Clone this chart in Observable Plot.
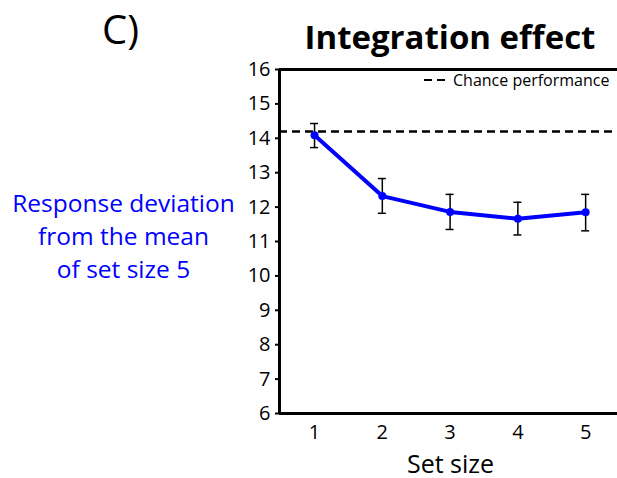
<!DOCTYPE html>
<html>
<head>
<meta charset="utf-8">
<script src="https://cdn.jsdelivr.net/npm/d3@7"></script>
<script src="https://cdn.jsdelivr.net/npm/@observablehq/plot@0.6"></script>
<style>
  html, body { margin: 0; padding: 0; background: #fff; }
  #wrap { position: relative; width: 617px; height: 478px; font-family: "Open Sans", sans-serif; }
  #wrap > svg { position: absolute; left: 0; top: 0; }
  .lbl { position: absolute; white-space: nowrap; line-height: 1; }
</style>
</head>
<body>
<div id="wrap">
  <div class="lbl" style="left:102px;top:9px;font-size:40px;">C)</div>
  <div class="lbl" style="left:450px;top:20px;transform:translateX(-50%);font-size:33px;font-weight:700;">Integration effect</div>
  <div class="lbl" style="left:123.5px;top:186px;transform:translateX(-50%);font-size:24.5px;color:#0000ff;text-align:center;line-height:33px;">Response deviation<br>from the mean<br>of set size 5</div>
  <div class="lbl" style="left:424px;top:72px;font-size:16px;display:flex;align-items:center;">
    <svg width="26" height="4" style="margin-right:3px;"><line x1="0" y1="2" x2="26" y2="2" stroke="#000" stroke-width="2" stroke-dasharray="8,5"/></svg><span>Chance performance</span>
  </div>
</div>
<script>
const setSizes = [1, 2, 3, 4, 5];
const meanDev = [14.09, 12.32, 11.86, 11.66, 11.85];
const errLow = [13.73, 11.82, 11.35, 11.19, 11.31];
const errHigh = [14.43, 12.83, 12.37, 12.14, 12.37];
const chance = 14.2;
const yTicks = [6, 7, 8, 9, 10, 11, 12, 13, 14, 15, 16];
const xLabel = "Set size";
const xDomain = [0.483, 5.47];
const yDomain = [6, 16];

const data = setSizes.map((s, i) => ({s, m: meanDev[i], lo: errLow[i], hi: errHigh[i]}));

const chart = Plot.plot({
  width: 617,
  height: 478,
  marginLeft: 279,
  marginRight: 0,
  marginTop: 69,
  marginBottom: 65,
  style: {fontFamily: "Open Sans, sans-serif", background: "transparent", color: "#000"},
  x: {type: "linear", domain: xDomain},
  y: {type: "linear", domain: yDomain},
  marks: [
    Plot.axisY({ticks: yTicks, tickFormat: "d", tickSize: 4, tickPadding: 5, fontSize: 20, label: null, strokeWidth: 2}),
    Plot.axisX({ticks: setSizes, tickFormat: "d", tickSize: 0, tickPadding: 11, fontSize: 20, label: null}),
    Plot.text([xLabel], {text: d => d, frameAnchor: "bottom", lineAnchor: "middle", dy: 51, dx: 2, fontSize: 25, fill: "#000"}),
    Plot.ruleY([chance], {stroke: "#000", strokeWidth: 2.5, strokeDasharray: "8,5"}),
    Plot.ruleX(data, {x: "s", y1: "lo", y2: "hi", stroke: "#000", strokeWidth: 1.5}),
    Plot.ruleY(data, {y: "lo", x1: "s", x2: "s", insetLeft: -4, insetRight: -4, stroke: "#000", strokeWidth: 1.5}),
    Plot.ruleY(data, {y: "hi", x1: "s", x2: "s", insetLeft: -4, insetRight: -4, stroke: "#000", strokeWidth: 1.5}),
    Plot.lineY(data, {x: "s", y: "m", stroke: "#0000ff", strokeWidth: 4}),
    Plot.dot(data, {x: "s", y: "m", r: 4, fill: "#0000ff"}),
    Plot.ruleY([yDomain[1]], {stroke: "#000", strokeWidth: 3}),
    Plot.ruleY([yDomain[0]], {stroke: "#000", strokeWidth: 3}),
    Plot.ruleX([xDomain[0]], {stroke: "#000", strokeWidth: 3})
  ]
});
document.getElementById("wrap").prepend(chart);
</script>
</body>
</html>
